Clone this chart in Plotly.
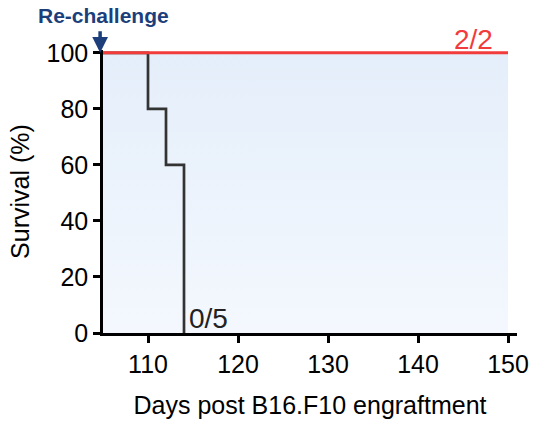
import plotly.graph_objects as go

# Data
days_ctrl = [105, 110, 112, 114]
surv_ctrl = [100, 80, 60, 0]
days_treat = [105, 150]
surv_treat = [100, 100]
x_ticks = [110, 120, 130, 140, 150]
y_ticks = [0, 20, 40, 60, 80, 100]
label_treat = "2/2"
label_ctrl = "0/5"

FONT = "Arial, Liberation Sans, sans-serif"

fig = go.Figure()

# Shaded background region
fig.add_trace(go.Scatter(
    x=[105, 150, 150, 105, 105], y=[100, 100, 0, 0, 100],
    fill="toself", mode="none", hoverinfo="skip",
    fillgradient=dict(type="vertical",
                      colorscale=[[0, "#f4f8fe"], [1, "#e4eefa"]]),
    showlegend=False))

fig.add_trace(go.Scatter(
    x=days_ctrl, y=surv_ctrl, mode="lines", line_shape="hv",
    line=dict(color="#333333", width=2.7), showlegend=False))

fig.add_trace(go.Scatter(
    x=days_treat, y=surv_treat, mode="lines",
    line=dict(color="#f23b3b", width=3), showlegend=False))

fig.add_annotation(x=148.6, y=100, text=label_treat, showarrow=False,
                   xanchor="right", yanchor="bottom", yshift=-4,
                   font=dict(family=FONT, size=28, color="#f23b3b"))
fig.add_annotation(x=114.3, y=0, text=label_ctrl, showarrow=False,
                   xanchor="left", yanchor="bottom", yshift=-3,
                   font=dict(family=FONT, size=28, color="#222222"))

# Re-challenge arrow
fig.add_annotation(x=-0.007, y=100, xref="paper", yref="y", text="",
                   showarrow=True, ax=0, ay=-23, arrowhead=2, arrowsize=0.9,
                   arrowwidth=3.5, arrowcolor="#1c3f7c", standoff=0)
fig.add_annotation(x=0.0, y=100, xref="paper", yref="y",
                   text="<b>Re-challenge</b>", showarrow=False,
                   yanchor="bottom", yshift=24, xanchor="center",
                   font=dict(family=FONT, size=21, color="#1c3f7c"))

fig.update_layout(
    width=533, height=421,
    margin=dict(l=103, r=16, t=50, b=88),
    paper_bgcolor="white", plot_bgcolor="white",
    font=dict(family=FONT, color="black"),
)
fig.update_xaxes(range=[105, 151], tickvals=x_ticks, showline=True,
                 linecolor="black", linewidth=2.5, ticks="outside", ticklen=7,
                 tickwidth=2.5, tickcolor="black", showgrid=False, zeroline=False,
                 tickfont=dict(size=25), automargin=False,
                 title=dict(text="Days post B16.F10 engraftment",
                            font=dict(size=25), standoff=20))
fig.update_yaxes(range=[0, 101], tickvals=y_ticks, showline=True,
                 linecolor="black", linewidth=2.5, ticks="outside", ticklen=7,
                 tickwidth=2.5, tickcolor="black", showgrid=False, zeroline=False,
                 tickfont=dict(size=25), automargin=False,
                 title=dict(text="Survival (%)", font=dict(size=25), standoff=10))

fig.write_html("out.html")
